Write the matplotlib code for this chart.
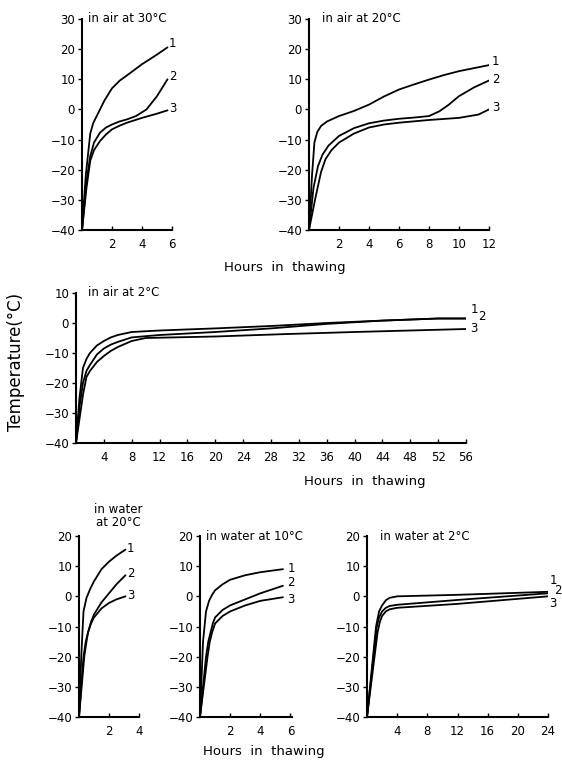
import matplotlib
matplotlib.use("Agg")
import matplotlib.pyplot as plt

# ---- data (hours, temperature °C) ----
# in air at 30°C
a30_x1 = [0, 0.25, 0.55, 0.75, 1.0, 1.5, 2.0, 2.5, 3.0, 4.0, 5.0, 5.7]
a30_y1 = [-40, -22, -8, -4.5, -2, 3, 7, 9.5, 11.3, 15, 18.2, 20.6]
a30_x2 = [0, 0.3, 0.55, 0.8, 1.2, 1.6, 2.0, 2.5, 3.0, 3.6, 4.3, 5.0, 5.7]
a30_y2 = [-40, -24, -15.5, -11, -7.7, -6, -5, -4, -3.3, -2.2, 0, 4.4, 10]
a30_x3 = [0, 0.3, 0.55, 0.8, 1.2, 1.6, 2.0, 2.5, 3.0, 4.0, 5.0, 5.7]
a30_y3 = [-40, -26, -17, -13.5, -10.5, -8.3, -6.6, -5.4, -4.4, -2.8, -1.4, -0.3]

# in air at 20°C
a20_x1 = [0, 0.2, 0.36, 0.55, 0.8, 1.2, 2, 3, 4, 5, 6, 7, 8, 9, 10, 11, 12]
a20_y1 = [-40, -22, -11, -7.5, -5.5, -4, -2.2, -0.5, 1.6, 4.3, 6.6, 8.3, 9.9, 11.4, 12.7, 13.7, 14.7]
a20_x2 = [0, 0.3, 0.6, 0.9, 1.3, 2, 3, 4, 5, 6, 7, 8, 8.7, 9.3, 10, 11, 12]
a20_y2 = [-40, -26, -18.8, -15, -12, -8.8, -6.2, -4.6, -3.7, -3.1, -2.7, -2.2, -0.6, 1.5, 4.4, 7.3, 9.6]
a20_x3 = [0, 0.4, 0.8, 1.1, 1.5, 2, 3, 4, 5, 6, 8, 10, 11.3, 12]
a20_y3 = [-40, -30, -20.8, -16.5, -13.5, -11, -8, -6, -5, -4.4, -3.5, -2.8, -1.7, 0]

# in air at 2°C
a2_x1 = [0, 0.5, 1, 1.5, 2, 3, 4, 5, 6, 8, 12, 20, 28, 36, 44, 52, 56]
a2_y1 = [-40, -25, -15, -12, -10, -7.5, -6, -4.8, -4, -3, -2.5, -1.8, -1, 0, 0.8, 1.5, 1.5]
a2_x2 = [0, 0.5, 1, 1.5, 2, 3, 4, 5, 6, 8, 12, 20, 28, 36, 44, 52, 56]
a2_y2 = [-40, -28, -20, -16, -14, -10.5, -8.5, -7.2, -6.3, -4.8, -4, -3, -1.8, -0.3, 0.8, 1.5, 1.5]
a2_x3 = [0, 1, 1.5, 2, 3, 4, 5, 6, 8, 10, 20, 30, 40, 56]
a2_y3 = [-40, -24, -18, -16, -13, -11, -9.3, -8, -6, -5, -4.5, -3.7, -3, -2]

# in water at 20°C
w20_x1 = [0, 0.15, 0.3, 0.5, 0.75, 1.0, 1.5, 2.0, 2.5, 3.1]
w20_y1 = [-40, -20, -5, -0.5, 2.5, 5, 9, 11.5, 13.5, 15.5]
w20_x2 = [0, 0.3, 0.45, 0.6, 0.8, 1.0, 1.5, 2.0, 2.5, 3.1]
w20_y2 = [-40, -20, -15, -12, -8.5, -6, -2, 1, 4, 7]
w20_x3 = [0, 0.35, 0.5, 0.6, 0.8, 1.0, 1.5, 2.0, 2.5, 3.1]
w20_y3 = [-40, -20, -15, -12, -9, -7, -4, -2.2, -1, 0]

# in water at 10°C
w10_x1 = [0, 0.2, 0.4, 0.6, 0.8, 1, 1.5, 2, 3, 4, 5.5]
w10_y1 = [-40, -15, -5, -1.5, 0.5, 2, 4, 5.5, 7, 8, 9]
w10_x2 = [0, 0.4, 0.55, 0.7, 0.85, 1, 1.5, 2, 3, 4, 5.5]
w10_y2 = [-40, -20, -15, -12, -9, -7, -4.5, -3, -1, 1, 3.5]
w10_x3 = [0, 0.5, 0.65, 0.8, 1, 1.5, 2, 3, 4, 5.5]
w10_y3 = [-40, -20, -15, -12, -9, -6.5, -5, -3, -1.5, -0.3]

# in water at 2°C
w2_x1 = [0, 1.2, 1.6, 2, 2.5, 3, 4, 12, 24]
w2_y1 = [-40, -10, -5, -3, -1.3, -0.5, 0, 0.5, 1.5]
w2_x2 = [0, 1.3, 1.6, 2, 2.5, 3, 4, 12, 24]
w2_y2 = [-40, -10, -7, -5, -3.8, -3.2, -2.8, -1.2, 1]
w2_x3 = [0, 1.4, 1.7, 2, 2.5, 3, 4, 12, 24]
w2_y3 = [-40, -12, -8.5, -6.5, -5, -4.3, -3.8, -2.5, 0]

curve_labels = ["1", "2", "3"]

panels = [
    dict(title="in air at 30°C", xlim=(0, 6), ylim=(-40, 30), xt=[2, 4, 6], yt=range(-40, 31, 10),
         xs=[a30_x1, a30_x2, a30_x3], ys=[a30_y1, a30_y2, a30_y3],
         pos=[82, 19, 172, 230], lab=[(5.75, 22), (5.8, 11), (5.8, 0.3)]),
    dict(title="in air at 20°C", xlim=(0, 12), ylim=(-40, 30), xt=[2, 4, 6, 8, 10, 12], yt=range(-40, 31, 10),
         xs=[a20_x1, a20_x2, a20_x3], ys=[a20_y1, a20_y2, a20_y3],
         pos=[309, 19, 489, 230], lab=[(12.2, 16), (12.2, 10), (12.2, 0.5)]),
    dict(title="in air at 2°C", xlim=(0, 56), ylim=(-40, 10), xt=list(range(4, 57, 4)), yt=range(-40, 11, 10),
         xs=[a2_x1, a2_x2, a2_x3], ys=[a2_y1, a2_y2, a2_y3],
         pos=[76, 293, 466, 443], lab=[(56.6, 4.5), (57.7, 2.3), (56.6, -1.9)]),
    dict(title="in water\nat 20°C", xlim=(0, 4), ylim=(-40, 20), xt=[2, 4], yt=range(-40, 21, 10),
         xs=[w20_x1, w20_x2, w20_x3], ys=[w20_y1, w20_y2, w20_y3],
         pos=[79, 536, 139, 717], lab=[(3.2, 16), (3.2, 7.5), (3.2, 0.3)]),
    dict(title="in water at 10°C", xlim=(0, 6.1), ylim=(-40, 20), xt=[2, 4, 6], yt=range(-40, 21, 10),
         xs=[w10_x1, w10_x2, w10_x3], ys=[w10_y1, w10_y2, w10_y3],
         pos=[200, 536, 292, 717], lab=[(5.8, 9.3), (5.8, 4.5), (5.8, -0.9)]),
    dict(title="in water at 2°C", xlim=(0, 24), ylim=(-40, 20), xt=[4, 8, 12, 16, 20, 24], yt=range(-40, 21, 10),
         xs=[w2_x1, w2_x2, w2_x3], ys=[w2_y1, w2_y2, w2_y3],
         pos=[367, 536, 548, 717], lab=[(24.2, 5.4), (24.85, 1.8), (24.2, -2.4)]),
]

W, H = 562, 761
fig = plt.figure(figsize=(W / 100, H / 100), dpi=100)
plt.rcParams['font.family'] = ['DejaVu Sans']
fs = 8.5

for i, p in enumerate(panels):
    x0, yt_, x1, yb = p["pos"]
    ax = fig.add_axes([x0 / W, (H - yb) / H, (x1 - x0) / W, (yb - yt_) / H])
    for xs, ys in zip(p["xs"], p["ys"]):
        ax.plot(xs, ys, color="black", lw=1.3, solid_capstyle="round", solid_joinstyle="round")
    ax.set_xlim(*p["xlim"])
    ax.set_ylim(*p["ylim"])
    ax.set_xticks(p["xt"])
    ax.set_yticks(list(p["yt"]))
    ax.set_yticklabels([str(v).replace("-", "−") for v in p["yt"]])
    for s in ["top", "right"]:
        ax.spines[s].set_visible(False)
    for s in ["left", "bottom"]:
        ax.spines[s].set_linewidth(1.5)
    ax.tick_params(axis="y", direction="out", length=3, width=1, labelsize=fs, pad=2)
    ax.tick_params(axis="x", direction="in", length=3, width=1, labelsize=fs, pad=6)
    ax.patch.set_alpha(0)
    for (lx, ly), t in zip(p["lab"], curve_labels):
        ax.text(lx, ly, t, fontsize=fs, ha="left", va="center", clip_on=False)
    if i == 3:
        ax.text(0.65, 1.04, p["title"], transform=ax.transAxes, fontsize=fs, ha="center",
                va="bottom", linespacing=0.95)
    else:
        ax.text(0.07 if i != 2 else 0.03, 1.0, p["title"], transform=ax.transAxes,
                fontsize=fs, ha="left", va="center")

hfs = 9.5
fig.text(285 / W, (H - 268) / H, "Hours  in  thawing", fontsize=hfs, ha="center", va="center")
fig.text(365 / W, (H - 481) / H, "Hours  in  thawing", fontsize=hfs, ha="center", va="center")
fig.text(264 / W, (H - 752) / H, "Hours  in  thawing", fontsize=hfs, ha="center", va="center")
fig.text(16 / W, (H - 362) / H, "Temperature(°C)", fontsize=12, rotation=90,
         ha="center", va="center")

fig.savefig("out.png", dpi=100, facecolor="white")
